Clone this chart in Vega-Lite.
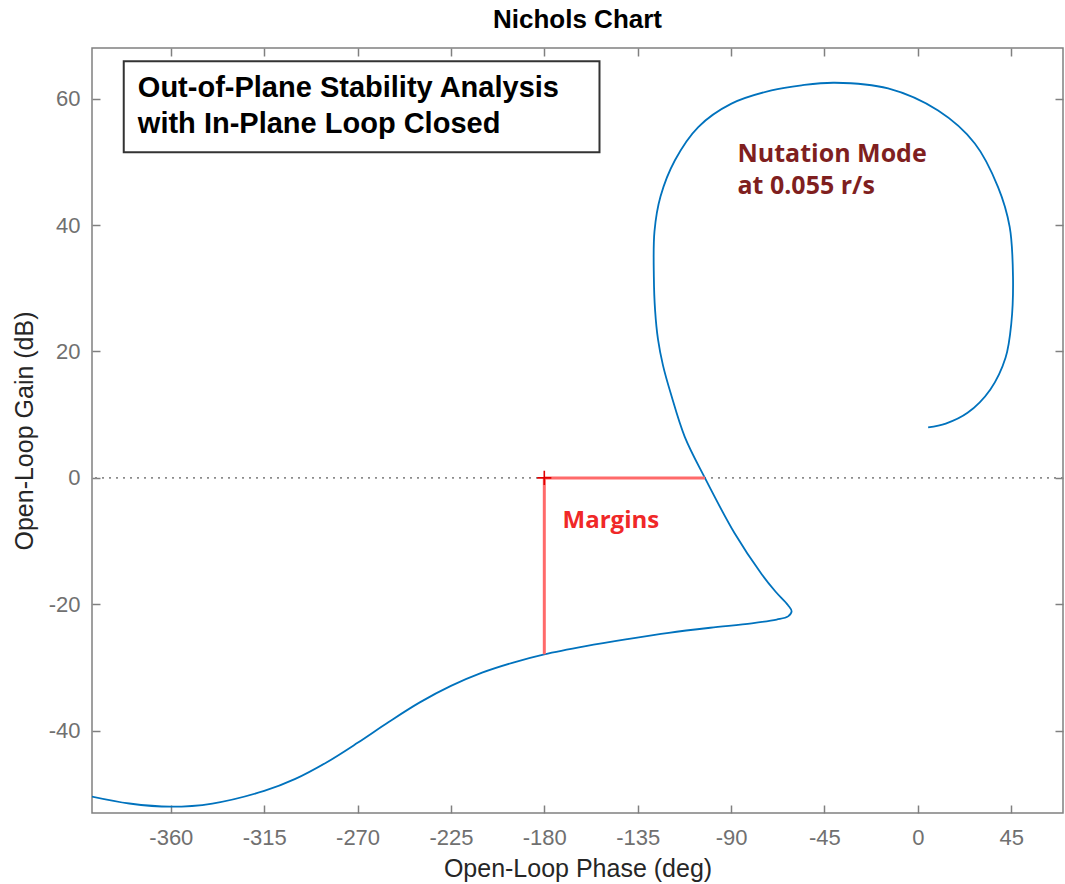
{
  "$schema": "https://vega.github.io/schema/vega-lite/v6.json",
  "width": 971,
  "height": 765,
  "autosize": "none",
  "padding": {"left": 92, "top": 48, "right": 2, "bottom": 71},
  "title": {"text": "Nichols Chart", "fontSize": 26, "fontWeight": "bold", "color": "#000000", "font": "Liberation Sans", "anchor": "middle", "offset": 14},
  "config": {
    "view": {"stroke": "#808080", "strokeWidth": 1.5},
    "font": "Liberation Sans",
    "axis": {"grid": false, "domain": false, "tickColor": "#808080", "tickWidth": 1.5, "tickSize": -8, "labelColor": "#707070", "labelFontSize": 22, "titleColor": "#262626", "titleFontSize": 25, "titleFontWeight": "normal", "labelFont": "Liberation Sans", "titleFont": "Liberation Sans", "labelExpr": "'' + datum.value"}
  },
  "datasets": {
    "curve": [
      {"i": 1, "phase": -398.1, "gain": -50.4},
      {"i": 2, "phase": -380, "gain": -51.5},
      {"i": 3, "phase": -360, "gain": -52.0},
      {"i": 4, "phase": -340, "gain": -51.5},
      {"i": 5, "phase": -315, "gain": -49.5},
      {"i": 6, "phase": -300, "gain": -47.6},
      {"i": 7, "phase": -285, "gain": -45.0},
      {"i": 8, "phase": -270, "gain": -41.9},
      {"i": 9, "phase": -255, "gain": -38.6},
      {"i": 10, "phase": -240, "gain": -35.5},
      {"i": 11, "phase": -225, "gain": -32.9},
      {"i": 12, "phase": -210, "gain": -30.8},
      {"i": 13, "phase": -195, "gain": -29.2},
      {"i": 14, "phase": -180, "gain": -27.9},
      {"i": 15, "phase": -160, "gain": -26.6},
      {"i": 16, "phase": -140, "gain": -25.5},
      {"i": 17, "phase": -120, "gain": -24.5},
      {"i": 18, "phase": -100, "gain": -23.7},
      {"i": 19, "phase": -80, "gain": -23.0},
      {"i": 20, "phase": -68, "gain": -22.4},
      {"i": 21, "phase": -62.5, "gain": -21.9},
      {"i": 22, "phase": -60.8, "gain": -21.1},
      {"i": 23, "phase": -62.6, "gain": -20.1},
      {"i": 24, "phase": -68.5, "gain": -18.0},
      {"i": 25, "phase": -75.3, "gain": -15.2},
      {"i": 26, "phase": -88.2, "gain": -8.8},
      {"i": 27, "phase": -102.6, "gain": 0.0},
      {"i": 28, "phase": -112.3, "gain": 6.5},
      {"i": 29, "phase": -119.0, "gain": 13.3},
      {"i": 30, "phase": -122.8, "gain": 17.8},
      {"i": 31, "phase": -125.2, "gain": 21.9},
      {"i": 32, "phase": -126.6, "gain": 26.5},
      {"i": 33, "phase": -127.2, "gain": 31.8},
      {"i": 34, "phase": -126.9, "gain": 39.0},
      {"i": 35, "phase": -124.0, "gain": 44.5},
      {"i": 36, "phase": -117.1, "gain": 50.2},
      {"i": 37, "phase": -105.8, "gain": 55.5},
      {"i": 38, "phase": -89.8, "gain": 59.2},
      {"i": 39, "phase": -70.5, "gain": 61.3},
      {"i": 40, "phase": -56.0, "gain": 62.1},
      {"i": 41, "phase": -40.0, "gain": 62.5},
      {"i": 42, "phase": -14.3, "gain": 61.6},
      {"i": 43, "phase": 9.8, "gain": 58.1},
      {"i": 44, "phase": 27.5, "gain": 52.9},
      {"i": 45, "phase": 38.7, "gain": 46.0},
      {"i": 46, "phase": 44.3, "gain": 39.7},
      {"i": 47, "phase": 45.9, "gain": 31.8},
      {"i": 48, "phase": 45.1, "gain": 24.5},
      {"i": 49, "phase": 42.3, "gain": 19.0},
      {"i": 50, "phase": 35.0, "gain": 14.0},
      {"i": 51, "phase": 24.0, "gain": 10.3},
      {"i": 52, "phase": 13.5, "gain": 8.6},
      {"i": 53, "phase": 5.0, "gain": 8.0}
    ],
    "margins": [
      {"phase": -180, "phase2": -180, "gain": 0, "gain2": -27.9},
      {"phase": -180, "phase2": -102.6, "gain": 0, "gain2": 0}
    ],
    "zero": [{"gain": 0}],
    "plus": [{"phase": -180, "gain": 0}],
    "box": [{"phase": -382.7, "phase2": -153.4, "gain": 65.9, "gain2": 51.5}],
    "boxText": [
      {"phase": -375.9, "gain": 60.2, "label": "Out-of-Plane Stability Analysis"},
      {"phase": -375.9, "gain": 54.6, "label": "with In-Plane Loop Closed"}
    ],
    "nutText": [
      {"phase": -86.9, "gain": 49.97, "label": "Nutation Mode"},
      {"phase": -86.9, "gain": 44.97, "label": "at 0.055 r/s"}
    ],
    "marText": [{"phase": -171.2, "gain": -8.0, "label": "Margins"}]
  },
  "layer": [
    {
      "data": {"name": "zero"},
      "mark": {"type": "rule", "color": "#8c8c8c", "strokeWidth": 1.6, "strokeDash": [2, 5]},
      "encoding": {
        "y": {"field": "gain", "type": "quantitative", "scale": {"domain": [-53, 68], "nice": false, "zero": false}, "axis": {"orient": "left", "values": [-40, -20, 0, 20, 40, 60], "title": "Open-Loop Gain (dB)", "labelPadding": 20, "titlePadding": 11}}
      }
    },
    {
      "data": {"name": "curve"},
      "mark": {"type": "line", "color": "#0072BD", "strokeWidth": 1.8, "interpolate": "catmull-rom", "clip": true},
      "encoding": {
        "x": {"field": "phase", "type": "quantitative", "scale": {"domain": [-398, 70], "nice": false, "zero": false}, "axis": {"orient": "bottom", "values": [-360, -315, -270, -225, -180, -135, -90, -45, 0, 45], "title": "Open-Loop Phase (deg)", "labelPadding": 22, "titlePadding": 8}},
        "y": {"field": "gain", "type": "quantitative", "scale": {"domain": [-53, 68], "nice": false, "zero": false}, "axis": null},
        "order": {"field": "i", "type": "quantitative"}
      }
    },
    {
      "data": {"name": "margins"},
      "mark": {"type": "rule", "color": "#FF6A6A", "strokeWidth": 3},
      "encoding": {
        "x": {"field": "phase", "type": "quantitative", "scale": {"domain": [-398, 70], "nice": false, "zero": false}, "axis": null},
        "x2": {"field": "phase2"},
        "y": {"field": "gain", "type": "quantitative", "scale": {"domain": [-53, 68], "nice": false, "zero": false}, "axis": null},
        "y2": {"field": "gain2"}
      }
    },
    {
      "data": {"name": "plus"},
      "mark": {"type": "point", "shape": "M-1,0L1,0M0,-1L0,1", "size": 200, "stroke": "#E00000", "strokeWidth": 1.6, "filled": false, "opacity": 1},
      "encoding": {
        "x": {"field": "phase", "type": "quantitative", "scale": {"domain": [-398, 70], "nice": false, "zero": false}, "axis": {"orient": "top", "values": [-360, -315, -270, -225, -180, -135, -90, -45, 0, 45], "labels": false, "title": null}},
        "y": {"field": "gain", "type": "quantitative", "scale": {"domain": [-53, 68], "nice": false, "zero": false}, "axis": {"orient": "right", "values": [-40, -20, 0, 20, 40, 60], "labels": false, "title": null}}
      }
    },
    {
      "data": {"name": "box"},
      "mark": {"type": "rect", "fill": "#ffffff", "stroke": "#333333", "strokeWidth": 2},
      "encoding": {
        "x": {"field": "phase", "type": "quantitative", "scale": {"domain": [-398, 70], "nice": false, "zero": false}, "axis": null},
        "x2": {"field": "phase2"},
        "y": {"field": "gain", "type": "quantitative", "scale": {"domain": [-53, 68], "nice": false, "zero": false}, "axis": null},
        "y2": {"field": "gain2"}
      }
    },
    {
      "data": {"name": "boxText"},
      "mark": {"type": "text", "align": "left", "baseline": "alphabetic", "font": "Liberation Sans", "fontWeight": "bold", "fontSize": 29, "color": "#000000"},
      "encoding": {
        "x": {"field": "phase", "type": "quantitative", "scale": {"domain": [-398, 70], "nice": false, "zero": false}, "axis": null},
        "y": {"field": "gain", "type": "quantitative", "scale": {"domain": [-53, 68], "nice": false, "zero": false}, "axis": null},
        "text": {"field": "label"}
      }
    },
    {
      "data": {"name": "nutText"},
      "mark": {"type": "text", "align": "left", "baseline": "alphabetic", "font": "Open Sans", "fontWeight": "bold", "fontSize": 25, "color": "#7F1F1F"},
      "encoding": {
        "x": {"field": "phase", "type": "quantitative", "scale": {"domain": [-398, 70], "nice": false, "zero": false}, "axis": null},
        "y": {"field": "gain", "type": "quantitative", "scale": {"domain": [-53, 68], "nice": false, "zero": false}, "axis": null},
        "text": {"field": "label"}
      }
    },
    {
      "data": {"name": "marText"},
      "mark": {"type": "text", "align": "left", "baseline": "alphabetic", "font": "Open Sans", "fontWeight": "bold", "fontSize": 24, "color": "#F02828"},
      "encoding": {
        "x": {"field": "phase", "type": "quantitative", "scale": {"domain": [-398, 70], "nice": false, "zero": false}, "axis": null},
        "y": {"field": "gain", "type": "quantitative", "scale": {"domain": [-53, 68], "nice": false, "zero": false}, "axis": null},
        "text": {"field": "label"}
      }
    }
  ],
  "resolve": {"axis": {"x": "independent", "y": "independent"}}
}
